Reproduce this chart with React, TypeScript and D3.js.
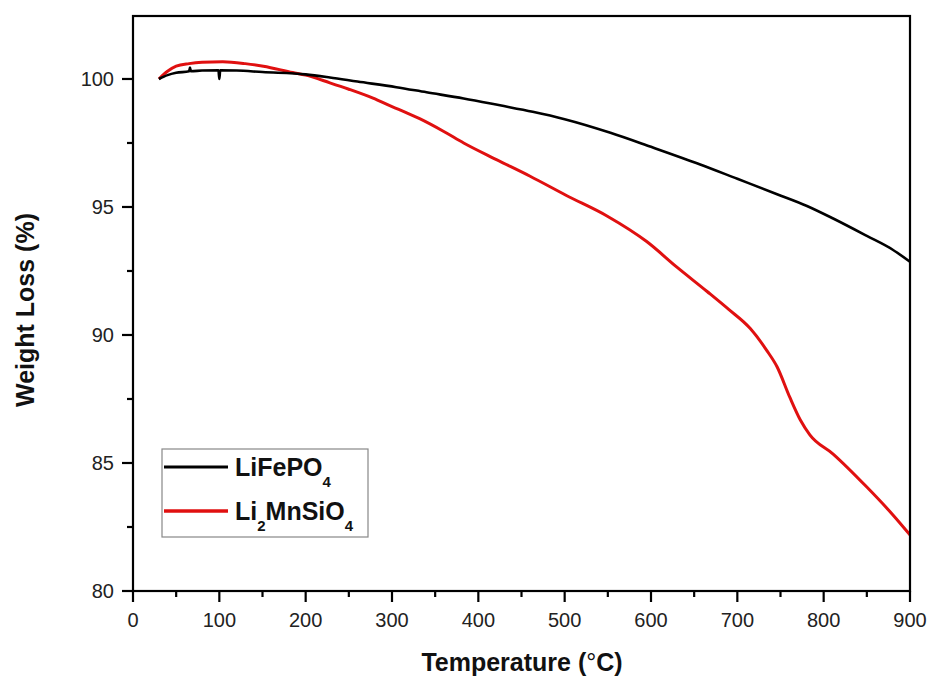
import React from "react";
import * as d3 from "d3";

const lfpTemp = [30, 40, 50, 65, 66, 67, 80, 99, 100, 101, 120, 150, 200, 228, 260, 305, 340, 383, 425, 463, 500, 553, 600, 657, 700, 746, 780, 811, 850, 880, 900];
const lfpWeight = [100.0, 100.15, 100.24, 100.3, 100.45, 100.3, 100.33, 100.34, 100.0, 100.34, 100.33, 100.27, 100.18, 100.06, 99.9, 99.68, 99.48, 99.24, 98.97, 98.72, 98.43, 97.9, 97.35, 96.66, 96.1, 95.5, 95.05, 94.55, 93.87, 93.33, 92.86];

const lmsTemp = [30, 40, 50, 65, 80, 104, 130, 151, 185, 200, 228, 250, 278, 300, 317, 332, 360, 383, 421, 460, 502, 549, 595, 630, 665, 690, 715, 734, 746, 761, 773, 784, 811, 850, 880, 900];
const lmsWeight = [100.0, 100.3, 100.5, 100.6, 100.65, 100.67, 100.6, 100.5, 100.25, 100.15, 99.85, 99.6, 99.25, 98.92, 98.68, 98.45, 97.95, 97.5, 96.85, 96.2, 95.45, 94.65, 93.65, 92.65, 91.7, 91.0, 90.25, 89.4, 88.76, 87.55, 86.68, 86.1, 85.35, 84.06, 82.98, 82.19];

const xTicks = [0, 100, 200, 300, 400, 500, 600, 700, 800, 900];
const xMinor = [50, 150, 250, 350, 450, 550, 650, 750, 850];
const yTicks = [80, 85, 90, 95, 100];
const yMinor = [82.5, 87.5, 92.5, 97.5];

const seriesNames = ["LiFePO", "Li2MnSiO4"];
const seriesColors = ["#000000", "#e01010"];

export default function App() {
  const W = 931, H = 677;
  const left = 133, right = 910, top = 16, bottom = 591;
  const x = d3.scaleLinear().domain([0, 900]).range([left, right]);
  const y = d3.scaleLinear().domain([80, 102.46]).range([bottom, top]);
  const line = d3.line<[number, number]>().x(d => x(d[0])).y(d => y(d[1])).curve(d3.curveMonotoneX);
  const lfp = line(lfpTemp.map((t, i) => [t, lfpWeight[i]] as [number, number])) || "";
  const lms = line(lmsTemp.map((t, i) => [t, lmsWeight[i]] as [number, number])) || "";
  const font = "'Liberation Sans', Arial, sans-serif";

  return (
    <svg width={W} height={H} style={{ position: "absolute", left: 0, top: 0, background: "#fff" }} fontFamily={font}>
      <rect x={0} y={0} width={W} height={H} fill="#fff" />
      <path d={lms} fill="none" stroke={seriesColors[1]} strokeWidth={3} strokeLinejoin="round" />
      <path d={lfp} fill="none" stroke={seriesColors[0]} strokeWidth={2.6} strokeLinejoin="round" />
      {/* frame */}
      <rect x={left} y={top} width={right - left} height={bottom - top} fill="none" stroke="#000" strokeWidth={2.2} />
      {/* x ticks */}
      {xTicks.map(t => (
        <g key={"xt" + t}>
          <line x1={x(t)} x2={x(t)} y1={bottom} y2={bottom + 11} stroke="#000" strokeWidth={2.2} />
          <text x={x(t)} y={bottom + 36} textAnchor="middle" fontSize={20} fill="#222">{t}</text>
        </g>
      ))}
      {xMinor.map(t => (
        <line key={"xm" + t} x1={x(t)} x2={x(t)} y1={bottom} y2={bottom + 6} stroke="#000" strokeWidth={2.2} />
      ))}
      {yTicks.map(v => (
        <g key={"yt" + v}>
          <line x1={left - 11} x2={left} y1={y(v)} y2={y(v)} stroke="#000" strokeWidth={2.2} />
          <text x={left - 19} y={y(v) + 7} textAnchor="end" fontSize={20} fill="#222">{v}</text>
        </g>
      ))}
      {yMinor.map(v => (
        <line key={"ym" + v} x1={left - 6} x2={left} y1={y(v)} y2={y(v)} stroke="#000" strokeWidth={2.2} />
      ))}
      {/* axis titles */}
      <text x={522} y={671} textAnchor="middle" fontSize={25} fontWeight="bold" fill="#111">
        Temperature (<tspan fontWeight="normal">°</tspan>C)
      </text>
      <text transform="translate(34,310) rotate(-90)" textAnchor="middle" fontSize={25} fontWeight="bold" fill="#111">Weight Loss (%)</text>
      {/* legend */}
      <rect x={162} y={449} width={206} height={88} fill="#fff" stroke="#888" strokeWidth={1.2} />
      <line x1={164} x2={228} y1={467} y2={467} stroke={seriesColors[0]} strokeWidth={3} />
      <line x1={164} x2={228} y1={511} y2={511} stroke={seriesColors[1]} strokeWidth={3.5} />
      <text x={235} y={476} fontSize={25} fontWeight="bold" fill="#111">
        {seriesNames[0]}
        <tspan fontSize={15} dy={11}>4</tspan>
      </text>
      <text x={235} y={520} fontSize={25} fontWeight="bold" fill="#111">
        Li<tspan fontSize={15} dy={11}>2</tspan>
        <tspan dy={-11}>MnSiO</tspan>
        <tspan fontSize={15} dy={11}>4</tspan>
      </text>
    </svg>
  );
}
